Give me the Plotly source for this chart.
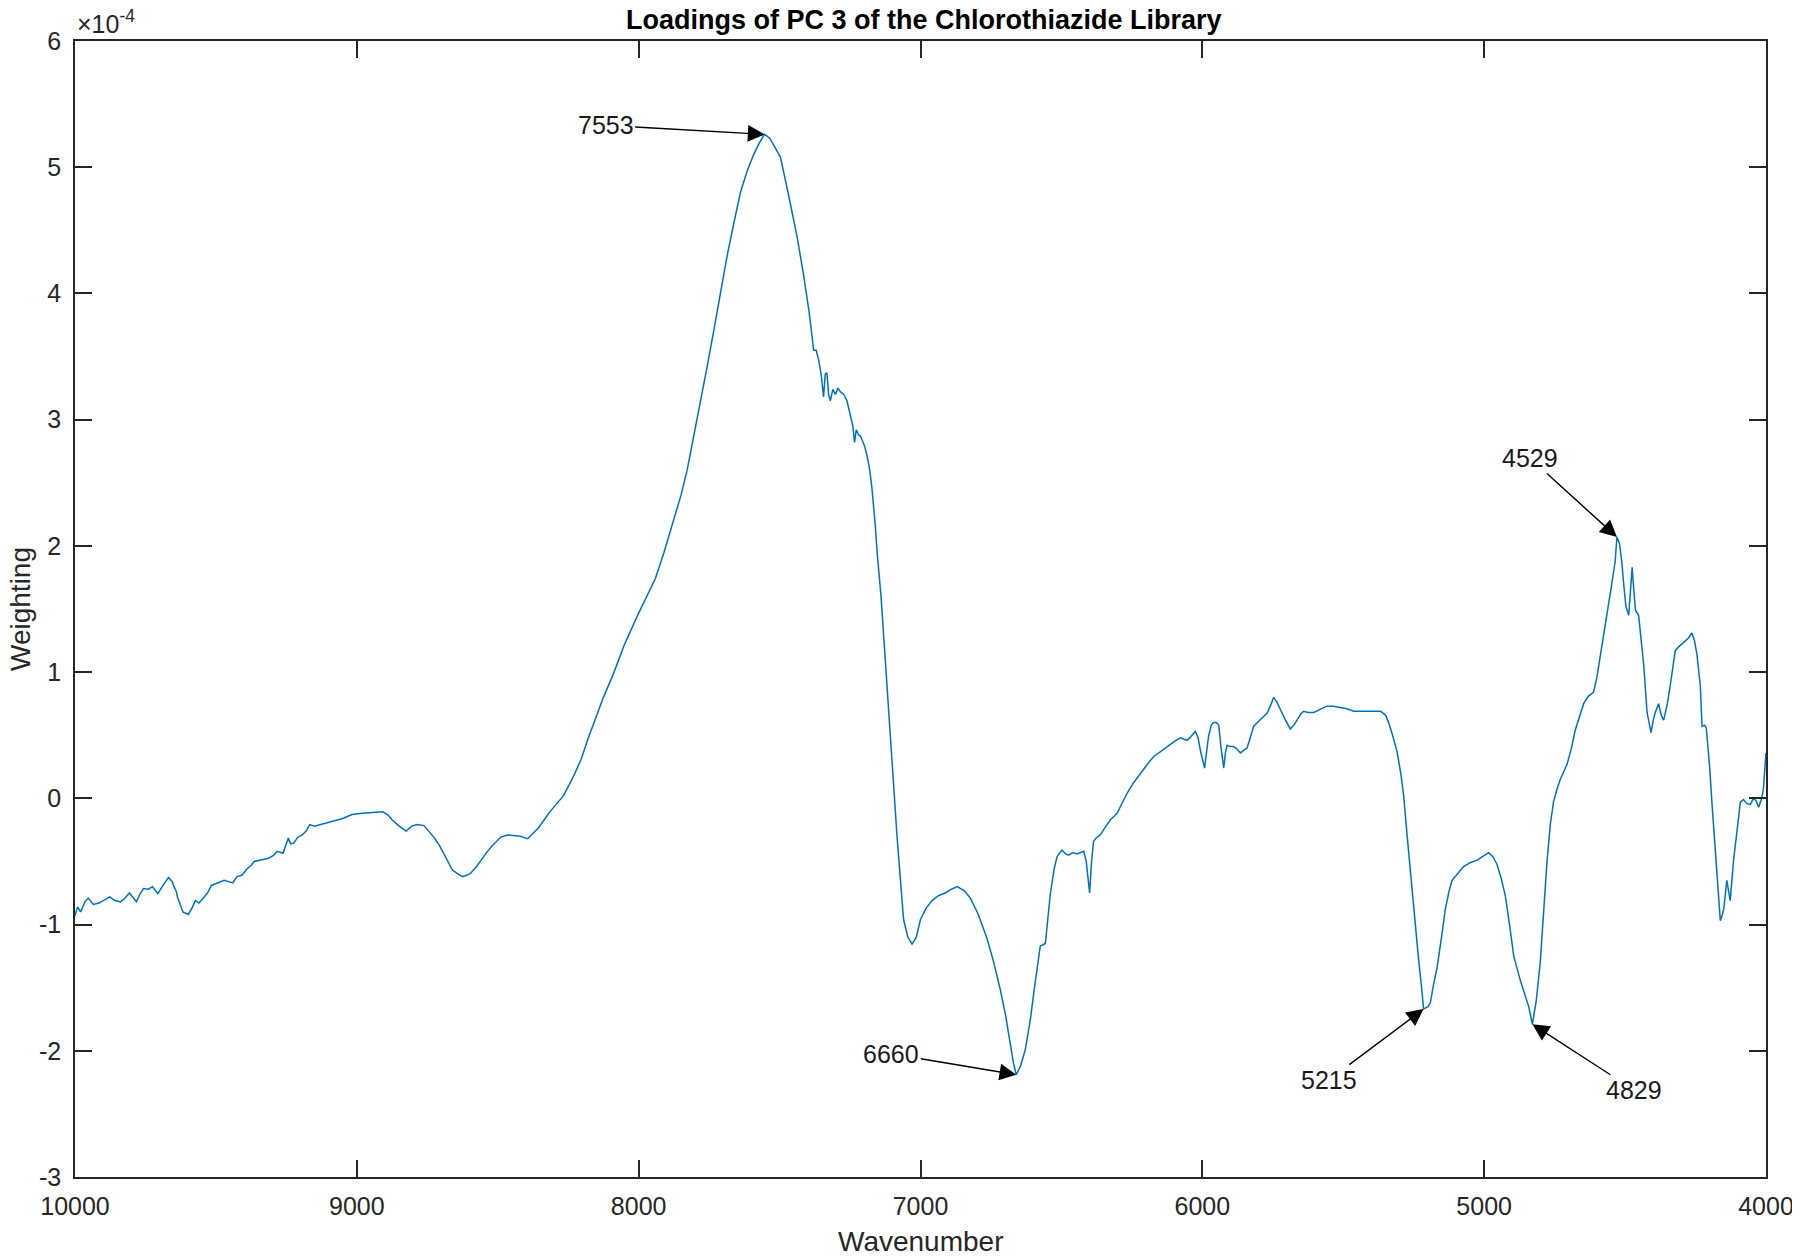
import plotly.graph_objects as go

# PC 3 loadings (weighting in units of 1e-4)
wavenumber = [
    10000, 9991, 9980, 9965, 9953, 9935, 9915, 9895, 9877, 9858, 9839, 9822, 9807, 9782, 9770,
    9757, 9740, 9725, 9706, 9685, 9668, 9655, 9649, 9640, 9637, 9627, 9617, 9598, 9585, 9573,
    9560, 9541, 9530, 9516, 9495, 9471, 9455, 9440, 9425, 9408, 9390, 9375, 9364, 9340, 9313,
    9295, 9282, 9262, 9243, 9235, 9224, 9210, 9193, 9180, 9167, 9150, 9129, 9105, 9079, 9050,
    9030, 9016, 8990, 8965, 8935, 8908, 8890, 8876, 8850, 8825, 8805, 8787, 8762, 8740, 8724,
    8705, 8692, 8675, 8661, 8640, 8625, 8610, 8597, 8575, 8559, 8540, 8521, 8505, 8489, 8465,
    8445, 8420, 8394, 8375, 8356, 8335, 8318, 8290, 8267, 8230, 8204, 8180, 8160, 8125, 8089,
    8050, 8006, 7975, 7941, 7910, 7876, 7850, 7828, 7805, 7781, 7757, 7734, 7710, 7686, 7662,
    7639, 7615, 7592, 7570, 7553, 7535, 7515, 7497, 7470, 7438, 7415, 7395, 7379, 7370, 7361,
    7352, 7344, 7338, 7332, 7326, 7320, 7311, 7302, 7293, 7284, 7272, 7261, 7250, 7240, 7234,
    7228, 7220, 7213, 7200, 7190, 7180, 7172, 7160, 7154, 7140, 7131, 7120, 7107, 7095, 7083,
    7070, 7060, 7045, 7030, 7015, 7000, 6980, 6959, 6935, 6912, 6890, 6870, 6845, 6823, 6795,
    6764, 6740, 6717, 6698, 6681, 6670, 6660, 6645, 6628, 6610, 6598, 6585, 6575, 6565, 6557,
    6548, 6539, 6525, 6515, 6498, 6485, 6474, 6460, 6444, 6430, 6421, 6412, 6409, 6400, 6393,
    6386, 6375, 6362, 6345, 6326, 6303, 6285, 6267, 6245, 6220, 6195, 6173, 6150, 6125, 6100,
    6078, 6054, 6040, 6025, 6015, 6007, 5992, 5985, 5978, 5968, 5960, 5950, 5942, 5934, 5924,
    5918, 5912, 5900, 5889, 5877, 5865, 5853, 5841, 5830, 5818, 5800, 5785, 5770, 5757, 5747,
    5735, 5723, 5705, 5688, 5675, 5664, 5650, 5640, 5625, 5605, 5580, 5558, 5535, 5510, 5487,
    5463, 5440, 5416, 5390, 5368, 5350, 5339, 5325, 5309, 5296, 5286, 5274, 5262, 5248, 5233,
    5222, 5215, 5200, 5191, 5180, 5167, 5150, 5138, 5125, 5114, 5095, 5073, 5050, 5025, 5005,
    4984, 4970, 4955, 4940, 4925, 4910, 4895, 4872, 4855, 4842, 4829, 4815, 4801, 4790, 4777,
    4765, 4754, 4742, 4730, 4706, 4690, 4677, 4660, 4647, 4630, 4612, 4600, 4582, 4564, 4550,
    4535, 4529, 4520, 4512, 4505, 4497, 4487, 4481, 4475, 4469, 4463, 4452, 4443, 4434, 4422,
    4408, 4400, 4393, 4381, 4372, 4363, 4350, 4340, 4322, 4310, 4292, 4275, 4263, 4254, 4245,
    4233, 4227, 4218, 4212, 4200, 4192, 4174, 4162, 4155, 4150, 4139, 4133, 4127, 4115, 4100,
    4091, 4080, 4068, 4056, 4044, 4035, 4026, 4015, 4009, 4000,
]
weighting_e4 = [
    -0.93, -0.86, -0.90, -0.82, -0.79, -0.84, -0.83, -0.80, -0.78, -0.81, -0.82, -0.79, -0.75, -0.82, -0.76,
    -0.715, -0.72, -0.70, -0.755, -0.68, -0.627, -0.66, -0.70, -0.74, -0.78, -0.84, -0.90, -0.92, -0.87, -0.81,
    -0.83, -0.78, -0.75, -0.69, -0.67, -0.65, -0.66, -0.67, -0.62, -0.61, -0.56, -0.53, -0.50, -0.49, -0.475,
    -0.45, -0.42, -0.435, -0.315, -0.36, -0.355, -0.31, -0.288, -0.26, -0.208, -0.22, -0.208, -0.19, -0.18, -0.16,
    -0.14, -0.128, -0.12, -0.115, -0.11, -0.107, -0.13, -0.168, -0.22, -0.26, -0.22, -0.208, -0.216, -0.27, -0.315,
    -0.38, -0.435, -0.50, -0.568, -0.60, -0.62, -0.61, -0.595, -0.54, -0.488, -0.43, -0.38, -0.34, -0.307, -0.29,
    -0.296, -0.30, -0.32, -0.28, -0.235, -0.17, -0.115, -0.04, 0.019, 0.18, 0.31, 0.47, 0.59, 0.80, 0.99,
    1.22, 1.44, 1.58, 1.74, 1.95, 2.20, 2.40, 2.60, 2.86, 3.15, 3.42, 3.70, 4.00, 4.30, 4.56,
    4.80, 4.97, 5.10, 5.20, 5.26, 5.23, 5.15, 5.08, 4.80, 4.45, 4.15, 3.85, 3.55, 3.55, 3.47,
    3.35, 3.18, 3.36, 3.37, 3.20, 3.15, 3.24, 3.20, 3.25, 3.22, 3.20, 3.15, 3.05, 2.95, 2.82,
    2.92, 2.88, 2.87, 2.80, 2.72, 2.60, 2.45, 2.15, 1.95, 1.60, 1.29, 0.95, 0.54, 0.10, -0.31,
    -0.68, -0.96, -1.10, -1.155, -1.10, -0.96, -0.87, -0.81, -0.77, -0.75, -0.72, -0.70, -0.73, -0.79, -0.92,
    -1.11, -1.30, -1.515, -1.72, -1.97, -2.10, -2.19, -2.12, -1.99, -1.75, -1.54, -1.33, -1.17, -1.16, -1.15,
    -0.95, -0.75, -0.55, -0.46, -0.41, -0.44, -0.45, -0.43, -0.44, -0.43, -0.42, -0.50, -0.57, -0.75, -0.50,
    -0.34, -0.31, -0.29, -0.23, -0.17, -0.12, -0.04, 0.04, 0.12, 0.20, 0.27, 0.33, 0.37, 0.41, 0.45,
    0.48, 0.46, 0.49, 0.53, 0.48, 0.38, 0.24, 0.35, 0.49, 0.58, 0.60, 0.60, 0.58, 0.41, 0.24,
    0.36, 0.42, 0.41, 0.41, 0.39, 0.36, 0.38, 0.40, 0.48, 0.57, 0.61, 0.64, 0.675, 0.74, 0.80,
    0.76, 0.70, 0.62, 0.55, 0.58, 0.62, 0.67, 0.69, 0.68, 0.68, 0.71, 0.73, 0.73, 0.72, 0.71,
    0.69, 0.69, 0.695, 0.69, 0.69, 0.66, 0.60, 0.50, 0.37, 0.20, 0.03, -0.28, -0.58, -0.95, -1.27,
    -1.50, -1.67, -1.65, -1.62, -1.48, -1.34, -1.08, -0.88, -0.74, -0.65, -0.60, -0.54, -0.51, -0.49, -0.46,
    -0.43, -0.46, -0.52, -0.63, -0.77, -1.00, -1.25, -1.44, -1.55, -1.65, -1.79, -1.60, -1.30, -0.90, -0.50,
    -0.20, -0.03, 0.07, 0.15, 0.27, 0.40, 0.54, 0.66, 0.75, 0.81, 0.84, 0.96, 1.20, 1.45, 1.66,
    1.88, 2.07, 2.02, 1.88, 1.70, 1.52, 1.45, 1.62, 1.83, 1.65, 1.49, 1.45, 1.25, 1.06, 0.68,
    0.52, 0.62, 0.68, 0.75, 0.66, 0.62, 0.75, 0.89, 1.17, 1.20, 1.24, 1.27, 1.31, 1.25, 1.14,
    0.89, 0.57, 0.58, 0.56, 0.25, -0.03, -0.63, -0.97, -0.92, -0.88, -0.65, -0.73, -0.81, -0.49, -0.18,
    -0.03, -0.01, -0.04, -0.05, 0.00, -0.02, -0.07, 0.00, 0.08, 0.36,
]

x_ticks = [10000, 9000, 8000, 7000, 6000, 5000, 4000]
y_ticks = [-3, -2, -1, 0, 1, 2, 3, 4, 5, 6]

# labelled peaks: wavenumber, weighting, text offset (px)
peak_labels = ["7553", "6660", "5215", "4829", "4529"]
peak_x = [7553, 6660, 5215, 4829, 4529]
peak_y = [5.26, -2.19, -1.67, -1.79, 2.07]
label_dx = [-159, -125, -95, 102, -87]
label_dy = [-9, -21, 71, 66, -79]

FONT = "Liberation Sans, Arial, sans-serif"
AXCOL = "#262626"

fig = go.Figure()
fig.add_trace(go.Scatter(
    x=wavenumber, y=weighting_e4, mode="lines",
    line=dict(color="#0072BD", width=1.5),
    showlegend=False,
))

for lbl, px, py, dx, dy in zip(peak_labels, peak_x, peak_y, label_dx, label_dy):
    fig.add_annotation(
        x=px, y=py, text=lbl, showarrow=True,
        ax=dx, ay=dy, arrowhead=2, arrowsize=2.4, arrowwidth=1.4,
        arrowcolor="black", standoff=0,
        font=dict(family=FONT, size=25, color="#1a1a1a"),
    )

# MATLAB style exponent above the y axis
fig.add_annotation(
    xref="paper", yref="paper", x=0, y=1, xanchor="left", yanchor="bottom",
    text="\u00d710<sup>-4</sup>", showarrow=False, yshift=1,
    font=dict(family=FONT, size=25, color=AXCOL),
)

# axis titles placed by hand
fig.add_annotation(
    xref="paper", yref="paper", x=0.5, y=0, yshift=-64, yanchor="middle",
    text="Wavenumber", showarrow=False,
    font=dict(family=FONT, size=28, color=AXCOL),
)
fig.add_annotation(
    xref="paper", yref="paper", x=0, y=0.5, xshift=-55, xanchor="center",
    text="Weighting", textangle=-90, showarrow=False,
    font=dict(family=FONT, size=28, color=AXCOL),
)

axis_common = dict(
    showgrid=False, zeroline=False, showline=True, linecolor=AXCOL, linewidth=1.5,
    mirror="ticks", ticks="inside", ticklen=17, tickwidth=1.5, tickcolor=AXCOL,
    tickfont=dict(family=FONT, size=25, color=AXCOL), automargin=False,
)

fig.update_xaxes(
    range=[10000, 4000], tickvals=x_ticks, ticktext=[str(v) for v in x_ticks],
    ticklabelstandoff=6, **axis_common,
)
fig.update_yaxes(
    range=[-3, 6], tickvals=y_ticks, ticktext=[str(v) for v in y_ticks],
    ticklabelstandoff=7, **axis_common,
)

# page body has an 8px margin, so the figure is a little smaller than the window
fig.update_layout(
    width=1792, height=1251,
    margin=dict(l=67, r=34, t=33, b=82),
    plot_bgcolor="white", paper_bgcolor="white",
    title=dict(
        text="<b>Loadings of PC 3 of the Chlorothiazide Library</b>",
        font=dict(family=FONT, size=27, color="black"),
        x=0.511, xanchor="center", yref="container", y=0.998, yanchor="top",
        pad=dict(t=0, b=0),
    ),
)

fig.write_html("out.html")
